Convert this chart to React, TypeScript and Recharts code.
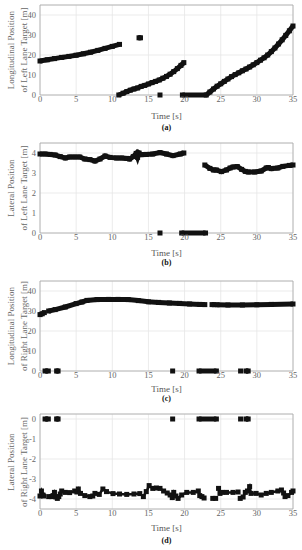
import React from 'react';
import { ScatterChart, Scatter, XAxis, YAxis, CartesianGrid, ReferenceArea } from 'recharts';

type Pt = [number, number];

const timeTicks = [0, 5, 10, 15, 20, 25, 30, 35];
const lonTicks = [0, 10, 20, 30, 40];
const leftLatTicks = [0, 1, 2, 3, 4];
const rightLatTicks = [-4, -3, -2, -1, 0];

// (a) longitudinal position, left lane target
const leftLonA: Pt[] = [[0, 17], [1, 17.6], [2, 18.2], [3, 18.8], [4, 19.3], [5, 19.9], [6, 20.6], [7, 21.4], [8, 22.3], [9, 23.3], [10, 24.3], [11, 25.3]];
const leftLonB: Pt[] = [[10.9, 0], [11.5, 0.9], [12, 1.7], [12.5, 2.4], [13, 3.0], [13.5, 3.5], [14, 4.3], [14.5, 4.8], [15, 5.5], [15.5, 6.2], [16, 6.8], [16.5, 7.5], [17, 8.4], [17.5, 9.3], [18, 10.4], [18.5, 11.7], [19, 13.2], [19.5, 14.8], [19.9, 16.2]];
const leftLonC: Pt[] = [[19.7, 0], [23, 0], [23.5, 1.5], [24, 3.0], [24.5, 4.4], [25, 5.6], [25.5, 6.8], [26, 8.0], [26.5, 9.2], [27, 10.2], [27.5, 11.1], [28, 12.1], [28.5, 13.0], [29, 14.0], [29.5, 15.1], [30, 16.2], [30.5, 17.4], [31, 18.6], [31.5, 20.0], [32, 21.7], [32.5, 23.5], [33, 25.5], [33.5, 27.6], [34, 29.8], [34.5, 32.1], [35, 34.5]];
const leftLonD: Pt[] = [[13.7, 28.6], [13.9, 28.6]];
const leftLonE: Pt[] = [[16.6, 0]];

// (b) lateral position, left lane target
const leftLatA: Pt[] = [[0, 3.95], [0.7, 3.95], [1.4, 3.93], [2.1, 3.9], [2.8, 3.82], [3.5, 3.75], [4.1, 3.8], [4.8, 3.8], [5.5, 3.8], [6.2, 3.7], [6.9, 3.67], [7.6, 3.6], [8.3, 3.7], [9.0, 3.85], [9.7, 3.78], [10.6, 3.75], [11.3, 3.75], [12.0, 3.73], [12.4, 3.7], [12.9, 3.82], [13.3, 3.98], [13.5, 3.78], [13.7, 4.0], [14.0, 3.92], [14.7, 3.93], [15.6, 3.95], [16.6, 4.02], [17.5, 3.95], [18.4, 3.87], [19.4, 3.95], [19.9, 4.0]];
const leftLatB: Pt[] = [[16.6, 0]];
const leftLatC: Pt[] = [[19.6, 0], [22.9, 0]];
const leftLatD: Pt[] = [[22.8, 3.4], [23.5, 3.23], [24, 3.15], [24.4, 3.15], [25.1, 3.07], [25.8, 3.15], [26.3, 3.25], [26.7, 3.3], [27.3, 3.32], [27.9, 3.18], [28.4, 3.08], [28.8, 3.05], [29.7, 3.05], [30.6, 3.1], [31.3, 3.25], [31.6, 3.27], [32, 3.22], [32.9, 3.25], [33.6, 3.33], [34.5, 3.38], [35, 3.4]];

// (c) longitudinal position, right lane target
const rightLonA: Pt[] = [[0, 28.2], [0.3, 28.6], [0.6, 29.2]];
const rightLonB: Pt[] = [[1.2, 30.0], [2.1, 30.7], [3.5, 32.0], [5.0, 33.7], [5.8, 34.5], [6.5, 35.3], [7.9, 35.7], [9.5, 35.8], [10.8, 35.8], [12.2, 35.7], [13.6, 35.2], [15, 34.6], [16.4, 34.3], [17.9, 34.0], [19.3, 33.8], [20.7, 33.5], [22.1, 33.3], [22.8, 33.2]];
const rightLonC: Pt[] = [[23.8, 33.2], [24.1, 33.2]];
const rightLonD: Pt[] = [[24.5, 33.1], [26, 33.0], [28, 33.0], [30, 33.1], [32, 33.3], [35, 33.5]];

// zero readings of the right lane target (c, d)
const rightZeroA: Pt[] = [[0.7, 0], [1.15, 0]];
const rightZeroB: Pt[] = [[2.3, 0], [2.5, 0]];
const rightZeroC: Pt[] = [[18.35, 0]];
const rightZeroD: Pt[] = [[22.0, 0], [24.4, 0]];
const rightZeroE: Pt[] = [[27.75, 0]];
const rightZeroF: Pt[] = [[28.5, 0], [28.8, 0]];

// (d) lateral position, right lane target
const rightLatA: Pt[] = [[0, -3.85], [0.2, -3.6], [0.4, -3.8], [0.5, -3.85]];
const rightLatB: Pt[] = [[1.2, -3.88], [1.6, -3.88], [1.8, -3.83], [2.0, -3.67], [2.2, -3.9], [2.4, -3.97], [2.6, -3.88], [2.8, -3.75], [3.0, -3.6], [3.5, -3.67], [4.1, -3.68], [4.8, -3.6], [5.1, -3.65], [5.3, -3.5], [5.6, -3.72], [6.2, -3.83], [6.9, -3.88], [7.3, -3.85], [7.6, -3.72], [8.2, -3.77], [8.7, -3.5], [9.2, -3.63], [10.1, -3.73], [11, -3.75], [12, -3.77], [13, -3.75], [13.8, -3.73], [14.3, -3.88], [14.7, -3.63], [15.1, -3.33], [15.6, -3.47], [16.1, -3.45], [16.6, -3.47], [17.1, -3.6], [17.6, -3.7], [18.0, -3.8], [18.3, -3.93], [18.5, -3.67], [18.8, -3.85], [19.1, -3.97], [19.6, -3.8], [20.3, -3.67], [21.2, -3.67], [21.9, -3.6], [22.1, -3.83], [22.4, -3.88], [22.7, -3.95]];
const rightLatC: Pt[] = [[23.9, -3.97], [24.3, -3.97]];
const rightLatD: Pt[] = [[24.7, -3.47], [24.9, -3.72], [25.2, -3.67], [25.8, -3.67], [26.7, -3.67], [27.4, -3.65]];
const rightLatE: Pt[] = [[27.7, -3.97], [28.1, -3.9], [28.4, -3.67], [28.7, -3.6], [29.0, -3.38], [29.2, -3.72], [29.9, -3.72], [30.6, -3.8], [31.3, -3.72], [32.0, -3.67], [32.9, -3.6], [33.4, -3.55], [33.7, -3.7], [33.9, -3.88], [34.3, -3.83], [34.8, -3.67], [35, -3.6]];

const rightZeros = [rightZeroA, rightZeroB, rightZeroC, rightZeroD, rightZeroE, rightZeroF];

const FONT = '"Liberation Serif", "DejaVu Serif", serif';
const MARK = '#111';

const toXY = (pts: Pt[]) => pts.map(([x, y]) => ({ x, y }));

function Square(props: any) {
  const { cx, cy } = props;
  if (cx == null || cy == null) return null;
  return <rect x={cx - 2.5} y={cy - 2.5} width={5} height={5} fill={MARK} />;
}

interface PanelProps {
  top: number;
  plotHeight: number;
  domain: [number, number];
  ticks: number[];
  thick: Pt[][];
  thin?: Pt[][];
  labelLines: [string, string];
  timeY: number;
  caption: string;
  captionY: number;
}

function Panel({ top, plotHeight, domain, ticks, thick, thin = [], labelLines, timeY, caption, captionY }: PanelProps) {
  const height = plotHeight + 20;
  const midY = top + 5 + plotHeight / 2;
  const all = [...thick.map((pts) => ({ pts, w: 5 })), ...thin.map((pts) => ({ pts, w: 2.5 }))];
  return (
    <>
      <div style={{ position: 'absolute', left: 0, top }}>
        <ScatterChart width={302} height={height} margin={{ top: 5, right: 9, left: 0, bottom: 0 }}>
          <CartesianGrid stroke="#e6e6e6" strokeWidth={0.8} />
          <XAxis
            type="number"
            dataKey="x"
            domain={[0, 35]}
            ticks={timeTicks}
            height={15}
            axisLine={false}
            tickLine={false}
            tickSize={1}
            tickMargin={0}
            tick={{ fill: '#666', fontSize: 8.5, fontFamily: FONT }}
          />
          <YAxis
            type="number"
            dataKey="y"
            domain={domain}
            ticks={ticks}
            width={40}
            axisLine={false}
            tickLine={false}
            tickSize={2}
            tickMargin={2}
            tick={{ fill: '#666', fontSize: 8.5, fontFamily: FONT }}
          />
          <ReferenceArea x1={0} x2={35} y1={domain[0]} y2={domain[1]} fill="none" stroke="#a8a8a8" strokeWidth={0.8} />
          {all.map((s, i) => (
            <Scatter
              key={i}
              data={toXY(s.pts)}
              shape={Square}
              line={{ stroke: MARK, strokeWidth: s.w }}
              isAnimationActive={false}
            />
          ))}
        </ScatterChart>
      </div>
      <div
        style={{
          position: 'absolute',
          left: 17.5 - 60,
          top: midY - 13,
          width: 120,
          height: 26,
          transform: 'rotate(-90deg)',
          textAlign: 'center',
          fontFamily: FONT,
          fontSize: 9,
          lineHeight: '13px',
          color: '#666',
          whiteSpace: 'nowrap',
        }}
      >
        <div>{labelLines[0]}</div>
        <div>{labelLines[1]}</div>
      </div>
      <div style={{ position: 'absolute', left: 40, width: 253, top: timeY - 4.5, textAlign: 'center', fontFamily: FONT, fontSize: 9, lineHeight: '9px', color: '#555' }}>
        Time [s]
      </div>
      <div style={{ position: 'absolute', left: 40, width: 253, top: captionY - 4, textAlign: 'center', fontFamily: FONT, fontSize: 8, lineHeight: '8px', fontWeight: 'bold', color: '#111' }}>
        {caption}
      </div>
    </>
  );
}

export default function App() {
  return (
    <div style={{ position: 'absolute', left: 0, top: 0, width: 302, height: 550, background: '#fff', overflow: 'hidden' }}>
      <Panel
        top={0}
        plotHeight={90}
        domain={[0, 45]}
        ticks={lonTicks}
        thick={[leftLonA, leftLonB, leftLonC, leftLonD, leftLonE]}
        labelLines={['Longitudinal Position', 'of Left Lane Target [m]']}
        timeY={116}
        caption="(a)"
        captionY={128}
      />
      <Panel
        top={138}
        plotHeight={90}
        domain={[0, 4.5]}
        ticks={leftLatTicks}
        thick={[leftLatA, leftLatB, leftLatC, leftLatD]}
        labelLines={['Lateral Position', 'of Left Lane Target [m]']}
        timeY={253}
        caption="(b)"
        captionY={262.5}
      />
      <Panel
        top={276}
        plotHeight={90}
        domain={[0, 45]}
        ticks={lonTicks}
        thick={[rightLonA, rightLonB, rightLonC, rightLonD, ...rightZeros]}
        labelLines={['Longitudinal Position', 'of Right Lane Target [m]']}
        timeY={389.5}
        caption="(c)"
        captionY={399}
      />
      <Panel
        top={409}
        plotHeight={95}
        domain={[-4.5, 0.25]}
        ticks={rightLatTicks}
        thick={rightZeros}
        thin={[rightLatA, rightLatB, rightLatC, rightLatD, rightLatE]}
        labelLines={['Lateral Position', 'of Right Lane Target [m]']}
        timeY={528}
        caption="(d)"
        captionY={541}
      />
    </div>
  );
}
